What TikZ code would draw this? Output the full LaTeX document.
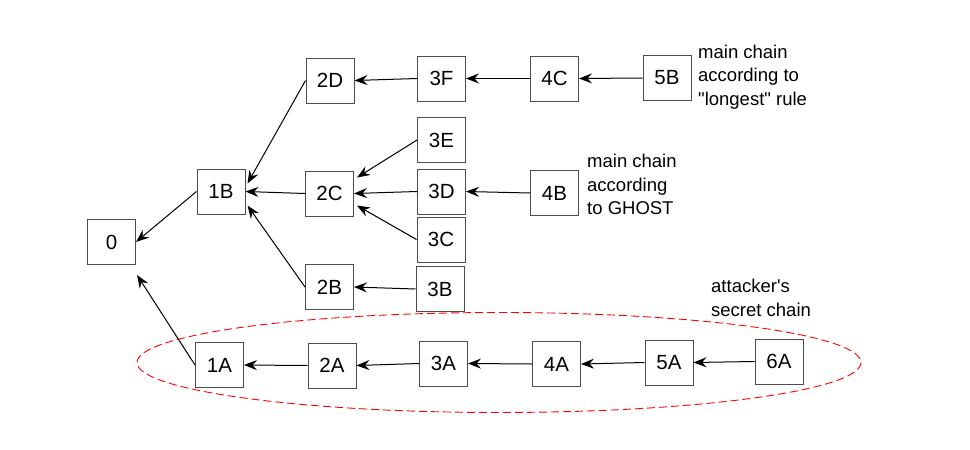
\documentclass[tikz,border=0pt]{standalone}
\usepackage{fontspec}
\setmainfont{Liberation Sans}[Ligatures=TeXOff]
\usetikzlibrary{arrows.meta}
\begin{document}
\begin{tikzpicture}[x=1pt,y=-1pt,
  blk/.style={draw=black!70,line width=1pt,fill=white,minimum width=48pt,minimum height=45pt,inner sep=0pt,font=\fontsize{20.5}{24}\selectfont},
  lbl/.style={anchor=west,align=left,inner sep=0pt,font=\fontsize{18.5}{23.5}\selectfont},
  link/.style={draw=black,line width=1pt,-{Stealth[length=13pt,width=10pt,inset=4.5pt]}}]
\useasboundingbox (0,0) rectangle (970,450);
\draw[red,line width=0.9pt,dash pattern=on 8pt off 4pt] (499,362.5) ellipse [x radius=362, y radius=50];
\node[blk] (n0) at (111.5,242) {0};
\node[blk] (n1B) at (221,191.5) {1B};
\node[blk] (n2D) at (330,80.5) {2D};
\node[blk] (n3F) at (441.5,78.5) {3F};
\node[blk] (n4C) at (554.5,78.5) {4C};
\node[blk] (n5B) at (667,78) {5B};
\node[blk] (n2C) at (329.5,193.5) {2C};
\node[blk] (n3E) at (441.5,140) {3E};
\node[blk] (n3D) at (441.5,191.5) {3D};
\node[blk] (n3C) at (441,239.5) {3C};
\node[blk] (n4B) at (554.5,193) {4B};
\node[blk] (n2B) at (329.5,287) {2B};
\node[blk] (n3B) at (440,289) {3B};
\node[blk] (n1A) at (219.5,365) {1A};
\node[blk] (n2A) at (332,365.5) {2A};
\node[blk] (n3A) at (443.5,363.5) {3A};
\node[blk] (n4A) at (556.5,364) {4A};
\node[blk] (n5A) at (669,362.5) {5A};
\node[blk] (n6A) at (779,361.5) {6A};
\node[lbl] (tlong) at (698,77) {main chain\\according to\\"longest" rule};
\node[lbl] (tghost) at (587,184.5) {main chain\\according\\to GHOST};
\node[lbl] (tatt) at (711,298) {attacker's\\secret chain};
\path[link] (n1B.west) -- (n0.east);
\path[link] (n2D.west) -- ([xshift=2pt,yshift=8pt]n1B.east);
\path[link] (n2C.west) -- (n1B.east);
\path[link] (n2B.west) -- ([xshift=2pt,yshift=-14pt]n1B.east);
\path[link] (n3F.west) -- (n2D.east);
\path[link] (n4C.west) -- (n3F.east);
\path[link] (n5B.west) -- (n4C.east);
\path[link] (n3E.west) -- ([xshift=3pt,yshift=16pt]n2C.east);
\path[link] (n3D.west) -- (n2C.east);
\path[link] (n3C.west) -- ([xshift=3pt,yshift=-12pt]n2C.east);
\path[link] (n4B.west) -- (n3D.east);
\path[link] (n3B.west) -- (n2B.east);
\path[link] (n1A.west) -- ([xshift=1pt,yshift=-10pt]n0.south east);
\path[link] (n2A.west) -- (n1A.east);
\path[link] (n3A.west) -- (n2A.east);
\path[link] (n4A.west) -- (n3A.east);
\path[link] (n5A.west) -- (n4A.east);
\path[link] (n6A.west) -- (n5A.east);
\end{tikzpicture}
\end{document}
